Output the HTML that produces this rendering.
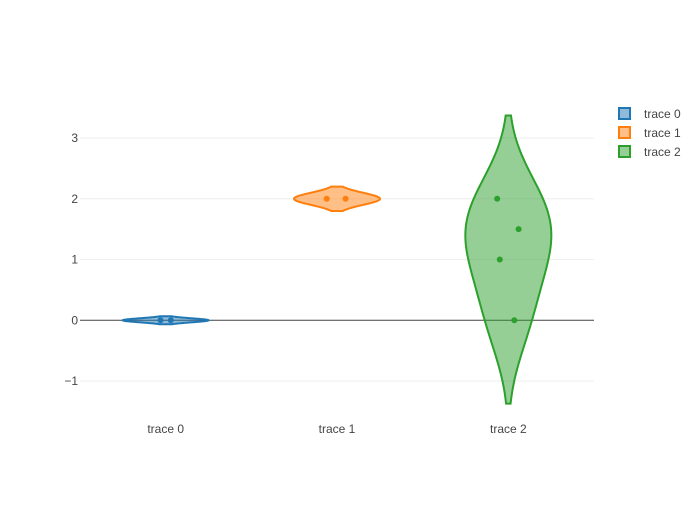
<!DOCTYPE html>
<html><head><meta charset="utf-8"><style>
body{margin:0;background:#fff;}
svg text{font-family:"Liberation Sans",sans-serif;font-size:12px;fill:#444;}
</style></head><body>
<svg id="chart" width="700" height="500"></svg>
<script>
const categories=["trace 0","trace 1","trace 2"];
const values0=[0,0];
const values1=[2,2];
const values2=[2,1.5,1,0];
const jitter0=[-0.03,0.03];
const jitter1=[-0.06,0.05];
const jitter2=[-0.065,0.06,-0.05,0.035];
const bandwidths=[0.033,0.1,0.686];
const yTicks=[-1,0,1,2,3];
const yTickLabels=["\u22121","0","1","2","3"];
const colors=["#1f77b4","#ff7f0e","#2ca02c"];
const NS="http://www.w3.org/2000/svg";
const svg=document.getElementById('chart');
function mk(t,a,p){const e=document.createElementNS(NS,t);for(const k in a)e.setAttribute(k,a[k]);(p||svg).appendChild(e);return e;}
const x0=80,x1=594;
const step=(x1-x0)/categories.length;
function xs(i){return x0+step*(i+0.5);}
function ys(v){return 320.3-v*60.75;}
const halfW=43;
yTicks.forEach((t,i)=>{
 const g=mk('line',{x1:x0,x2:x1,y1:ys(t),y2:ys(t),stroke:t===0?'#444':'#eee','stroke-width':1});
 
 
 const tx=mk('text',{x:x0-2,y:ys(t)+4,'text-anchor':'end'});
 tx.textContent=yTickLabels[i];
 
 
});
const all=[values0,values1,values2],jit=[jitter0,jitter1,jitter2];
all.forEach((vals,i)=>{
 const bw=bandwidths[i];
 const mn=Math.min(...vals)-2*bw,mx=Math.max(...vals)+2*bw;
 const N=80,pts=[];let maxd=0;
 for(let k=0;k<=N;k++){const y=mn+(mx-mn)*k/N;let d=0;vals.forEach(v=>{const z=(y-v)/bw;d+=Math.exp(-z*z/2);});pts.push([y,d]);if(d>maxd)maxd=d;}
 const cx=xs(i);
 let p=pts.map((q,k)=>(k?'L':'M')+(cx+q[1]/maxd*halfW).toFixed(2)+','+ys(q[0]).toFixed(2)).join('');
 p+=pts.slice().reverse().map(q=>'L'+(cx-q[1]/maxd*halfW).toFixed(2)+','+ys(q[0]).toFixed(2)).join('')+'Z';
 const v=mk('path',{d:p,fill:colors[i],'fill-opacity':0.5,stroke:colors[i],'stroke-width':2});
 
 
 vals.forEach((val,j)=>{
  const c=mk('circle',{cx:cx+jit[i][j]*step,cy:ys(val),r:3,fill:colors[i]});
  
  
 });
 const tx=mk('text',{x:cx,y:433,'text-anchor':'middle'});
 tx.textContent=categories[i];
 
 
 const lr=mk('rect',{x:619,y:108+i*19,width:11,height:11,fill:colors[i],'fill-opacity':0.5,stroke:colors[i],'stroke-width':2});
 
 
 const lt=mk('text',{x:644,y:118+i*19});
 lt.textContent=categories[i];
 
 
});
</script>
</body></html>
